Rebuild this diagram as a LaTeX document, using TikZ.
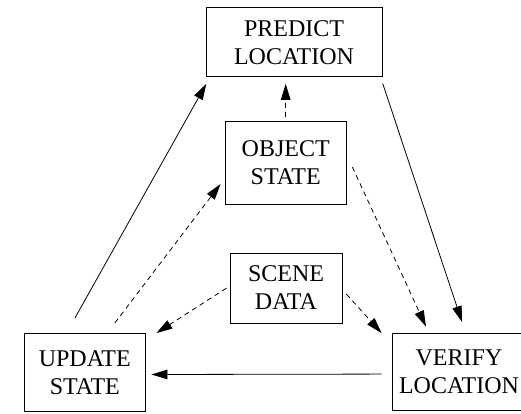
\documentclass[tikz,border=0pt]{standalone}
\usepackage{fontspec}
\setmainfont{Liberation Serif}
\usetikzlibrary{arrows.meta}
\begin{document}
\begin{tikzpicture}[x=1pt,y=-1pt,
  box/.style={draw, line width=0.8pt, inner sep=0pt, align=center, font=\fontsize{24}{28}\selectfont},
  conn/.style={line width=0.8pt, -{Triangle[length=16pt,width=9.5pt]}},
  dconn/.style={conn, dash pattern=on 5pt off 4pt}]
\clip (0,0) rectangle (521,413);
\node[box, minimum width=176pt, minimum height=69pt] (pred) at (294,42.3) {PREDICT\\LOCATION};
\node[box, minimum width=120.5pt, minimum height=82.3pt] (obj) at (285.7,162.8) {OBJECT\\STATE};
\node[box, minimum width=112pt, minimum height=70pt] (scene) at (286,288) {SCENE\\DATA};
\node[box, minimum width=121.5pt, minimum height=77.5pt] (upd) at (84.8,372.2) {UPDATE\\STATE};
\node[box, minimum width=134pt, minimum height=76.5pt] (ver) at (459,371.75) {VERIFY\\LOCATION};
\draw[conn, shorten <=17.4pt, shorten >=7.6pt] ([xshift=-18.3pt]upd.north) -- ([xshift=4.4pt]pred.south west);
\draw[conn, shorten <=6.6pt, shorten >=11.6pt] ([xshift=-1.8pt]pred.south east) -- ([xshift=6.7pt]ver.north);
\draw[conn, shorten <=10pt, shorten >=5.5pt] ([yshift=-2.3pt]ver.west) -- ([yshift=-2.3pt]upd.east);
\draw[dconn, shorten <=4.7pt, shorten >=6.6pt] (obj.north) -- (obj.north |- pred.south);
\draw[dconn, shorten <=14.3pt, shorten >=7.2pt] ([yshift=8.8pt]obj.east) -- ([xshift=-30pt]ver.north);
\draw[dconn, shorten <=12.8pt, shorten >=7.4pt] ([xshift=22.4pt]upd.north) -- ([yshift=-15.3pt]obj.west);
\draw[dconn, shorten <=3.6pt] ([yshift=1.9pt]scene.west) -- ([xshift=10.5pt]upd.north east);
\draw[dconn, shorten <=5.9pt] ([yshift=-1.7pt]scene.east) -- ([xshift=-10pt]ver.north west);
\end{tikzpicture}
\end{document}
